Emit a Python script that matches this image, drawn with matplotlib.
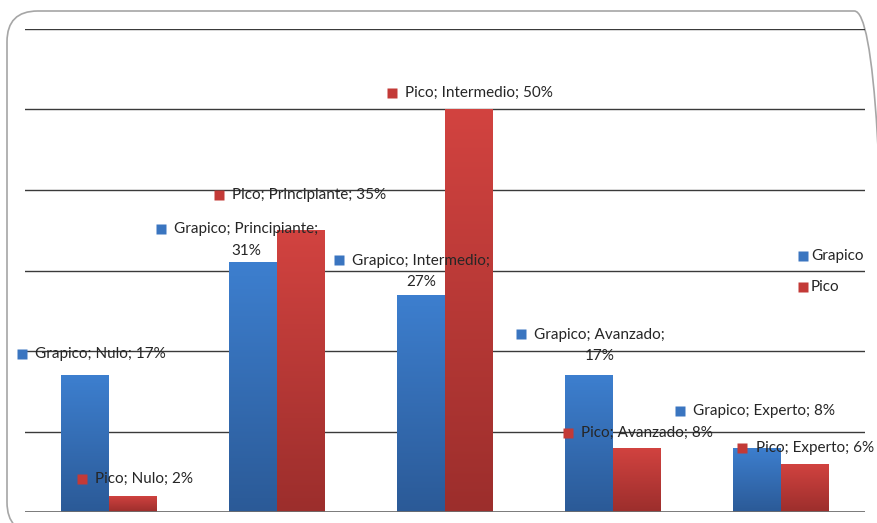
import numpy as np
import matplotlib
matplotlib.use("Agg")
import matplotlib.pyplot as plt
from matplotlib.patches import FancyBboxPatch
from matplotlib.colors import LinearSegmentedColormap

plt.rcParams['font.family'] = ['Lato', 'DejaVu Sans']

categories = ["Nulo", "Principiante", "Intermedio", "Avanzado", "Experto"]
series_names = ["Grapico", "Pico"]
grapico = [17, 31, 27, 17, 8]
pico = [2, 35, 50, 8, 6]

# label anchor (marker) positions in axes data units, per series and category
grapico_label_pos = [(-0.52, 19.6), (0.31, 35.2), (1.37, 31.3), (2.45, 22.1), (3.40, 12.5)]
pico_label_pos = [(-0.16, 4.1), (0.655, 39.4), (1.685, 52.1), (2.73, 9.8), (3.77, 7.9)]
# labels that wrap onto a second line
grapico_wrap = [False, True, True, True, False]
pico_wrap = [False, False, False, False, False]

blue_top, blue_bot = "#3d7fcf", "#2b5a97"
red_top, red_bot = "#d24340", "#9c2e2c"
blue_key, red_key = "#3a75c0", "#c33a37"
FS = 11

fig = plt.figure(figsize=(8.77, 5.23), dpi=100)
fig.patch.set_facecolor("white")

# rounded outer frame
frame = FancyBboxPatch((7 / 877, -10 / 523), 878 / 877, (523 - 11 + 10) / 523,
                       boxstyle="round,pad=0,rounding_size=0.035",
                       transform=fig.transFigure, facecolor="none",
                       edgecolor="#a6a6a6", linewidth=1.2, zorder=-1,
                       mutation_aspect=877 / 523)
fig.patches.append(frame)

ax = fig.add_axes([25 / 877, (523 - 512) / 523, (865 - 25) / 877, (512 - 29) / 523])
ax.set_facecolor("none")
for s in ax.spines.values():
    s.set_visible(False)
ax.set_xticks([])
ax.set_yticks([])
for yv in range(10, 61, 10):
    ax.axhline(yv, color="#3a3a3a", lw=1.0, zorder=1)
ax.axhline(0, color="#6e6e6e", lw=2.0, zorder=4)

bw = 0.285
x = np.arange(len(categories))


def gradient_bars(xpos, vals, top, bot, label):
    bars = ax.bar(xpos, vals, width=bw, color=top, label=label, zorder=2,
                  linewidth=0)
    cmap = LinearSegmentedColormap.from_list("g", [bot, top])
    grad = np.linspace(0, 1, 256).reshape(-1, 1)
    for b in bars:
        x0, y0 = b.get_x(), b.get_y()
        w, h = b.get_width(), b.get_height()
        im = ax.imshow(grad, cmap=cmap, origin="lower", aspect="auto",
                       extent=(x0, x0 + w, y0, y0 + h), zorder=2.5)
        im.set_clip_path(b)
    return bars


gradient_bars(x - bw / 2, grapico, blue_top, blue_bot, series_names[0])
gradient_bars(x + bw / 2, pico, red_top, red_bot, series_names[1])
ax.set_xlim(-0.5, 4.5)
ax.set_ylim(0, 60)


def data_label(name, cat, val, pos, wrap, key):
    px, py = pos
    ax.plot([px], [py], marker="s", ms=6.5, color=key, mec="none",
            zorder=6, clip_on=False)
    if wrap:
        txt = f"{name}; {cat};\n{val}%"
        ax.annotate(txt, (px, py), xytext=(9.5, 4.5), textcoords="offset points",
                    ha="left", va="top", multialignment="center",
                    fontsize=FS, color="#262626", zorder=6,
                    annotation_clip=False, linespacing=1.65)
    else:
        txt = f"{name}; {cat}; {val}%"
        ax.annotate(txt, (px, py), xytext=(9.5, 0), textcoords="offset points",
                    ha="left", va="center", fontsize=FS, color="#262626",
                    zorder=6, annotation_clip=False)


for i, c in enumerate(categories):
    data_label(series_names[0], c, grapico[i], grapico_label_pos[i],
               grapico_wrap[i], blue_key)
    data_label(series_names[1], c, pico[i], pico_label_pos[i],
               pico_wrap[i], red_key)

# legend on the right
for k, (nm, col) in enumerate(zip(series_names, [blue_key, red_key])):
    yy = (523 - 256 - k * 31) / 523
    fig.lines.append(plt.Line2D([803 / 877], [yy], marker="s", ms=6.5,
                                color=col, mec="none",
                                transform=fig.transFigure))
    fig.text(811 / 877, yy, nm, ha="left", va="center", fontsize=FS,
             color="#262626")

fig.savefig("out.png", dpi=100, facecolor="white")
